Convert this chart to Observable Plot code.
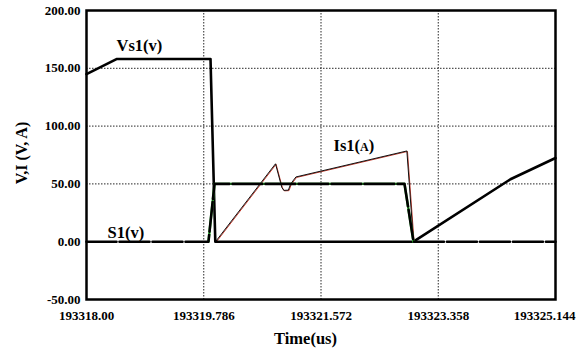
<!DOCTYPE html>
<html><head><meta charset="utf-8">
<script src="https://cdn.jsdelivr.net/npm/d3@7"></script>
<script src="https://cdn.jsdelivr.net/npm/@observablehq/plot@0.6"></script>
<style>
body{margin:0;background:#fff;}
</style></head>
<body><div id="chart"></div>
<script>
// tick values and labels
const xTicks = [193318.00, 193319.786, 193321.572, 193323.358, 193325.144];
const xTickLabels = ["193318.00", "193319.786", "193321.572", "193323.358", "193325.144"];
const yTicks = [-50, 0, 50, 100, 150, 200];

// Vs1(v)
const vsT = [193318.000, 193318.457, 193319.889, 193319.962, 193322.981, 193324.458, 193325.144];
const vsV = [145, 158, 158, 0, 0, 54, 72.4];

// S1(v)
const s1T = [193318.000, 193319.858, 193319.950, 193322.844, 193322.981, 193325.144];
const s1V = [0, 0, 50, 50, 0, 0];

// Is1(A)
const isT = [193319.965, 193320.879, 193320.975, 193321.005, 193321.075, 193321.110, 193321.190, 193322.880, 193322.981];
const isV = [0, 67.4, 47, 44.4, 44.6, 50, 56, 78.5, 0];

const vs = vsT.map((t, i) => ({t, v: vsV[i]}));
const s1 = s1T.map((t, i) => ({t, v: s1V[i]}));
const s1Mid = s1.filter(d => d.t > 193319.85 && d.t < 193323.0);
const is1 = isT.map((t, i) => ({t, v: isV[i]}));

const serif = "'Liberation Serif', 'Times New Roman', serif";

const plot = Plot.plot({
  width: 585, height: 351,
  marginLeft: 86, marginRight: 30, marginTop: 10, marginBottom: 52,
  style: {fontFamily: serif, fontSize: "13px", background: "#fff", color: "#000"},
  x: {domain: [193318, 193325.144], axis: null},
  y: {domain: [-50, 200], axis: null},
  marks: [
    Plot.gridX(xTicks.slice(1, -1), {stroke: "#000", strokeOpacity: 0.85, strokeWidth: 1, strokeDasharray: "1.5,1.5"}),
    Plot.gridY(yTicks.slice(2, -1), {stroke: "#000", strokeOpacity: 0.85, strokeWidth: 1, strokeDasharray: "1.5,1.5"}),
    Plot.line(is1, {x: "t", y: "v", stroke: "#c0392b", strokeWidth: 1, dx: 0.6, dy: 0.5}),
    Plot.line(is1, {x: "t", y: "v", stroke: "#111", strokeWidth: 1}),
    Plot.line(vs, {x: "t", y: "v", stroke: "#000", strokeWidth: 2.6}),
    Plot.line(s1Mid, {x: "t", y: "v", stroke: "#3ddc3d", strokeWidth: 2.4}),
    Plot.line(s1, {x: "t", y: "v", stroke: "#000", strokeWidth: 2.6, strokeDasharray: "30,3"}),
    Plot.frame({stroke: "#000", strokeWidth: 2.5}),
    Plot.text(yTicks, {x: 193318, y: d => d, text: d => d.toFixed(2), textAnchor: "end", dx: -6, fontSize: 13, fontWeight: "bold", fontFamily: serif, fill: "#000"}),
    Plot.text(xTicks.slice(0, -1), {x: d => d, y: -50, dy: 16, text: (d, i) => xTickLabels[i], fontSize: 13, fontWeight: "bold", fontFamily: serif, fill: "#000"}),
    Plot.text(xTicks.slice(-1), {x: d => d, y: -50, dy: 16, dx: -11, text: () => xTickLabels[xTickLabels.length - 1], fontSize: 13, fontWeight: "bold", fontFamily: serif, fill: "#000"}),
    Plot.text(["V,I (V, A)"], {x: 193318, y: 76.7, dx: -65, rotate: -90, text: d => d, fontSize: 16, fontWeight: "bold", fontFamily: serif, fill: "#000"}),
    Plot.text(["Time(us)"], {x: 193321.336, y: -50, dy: 39, text: d => d, fontSize: 16.5, fontWeight: "bold", fontFamily: serif, fill: "#000"}),
    Plot.text(["Vs1(v)"], {x: 193318.457, y: 169.6, text: d => d, textAnchor: "start", fontSize: 16.5, fontWeight: "bold", fontFamily: serif, fill: "#000"}),
    Plot.text(["S1(v)"], {x: 193318.32, y: 8.2, text: d => d, textAnchor: "start", fontSize: 16.5, fontWeight: "bold", fontFamily: serif, fill: "#000"}),
    Plot.text(["Is1(A)"], {x: 193321.762, y: 82.8, text: d => d, textAnchor: "start", fontSize: 16.5, fontWeight: "bold", fontFamily: serif, fill: "#000"})
  ]
});
document.getElementById("chart").appendChild(plot);

// small-caps style "A" inside Is1(A)
d3.select(plot).selectAll("text").filter(function () { return this.textContent === "Is1(A)"; }).each(function () {
  const t = d3.select(this);
  t.text("");
  t.append("tspan").text("Is1(");
  t.append("tspan").attr("font-size", 12).text("A");
  t.append("tspan").text(")");
});
</script>
</body></html>
